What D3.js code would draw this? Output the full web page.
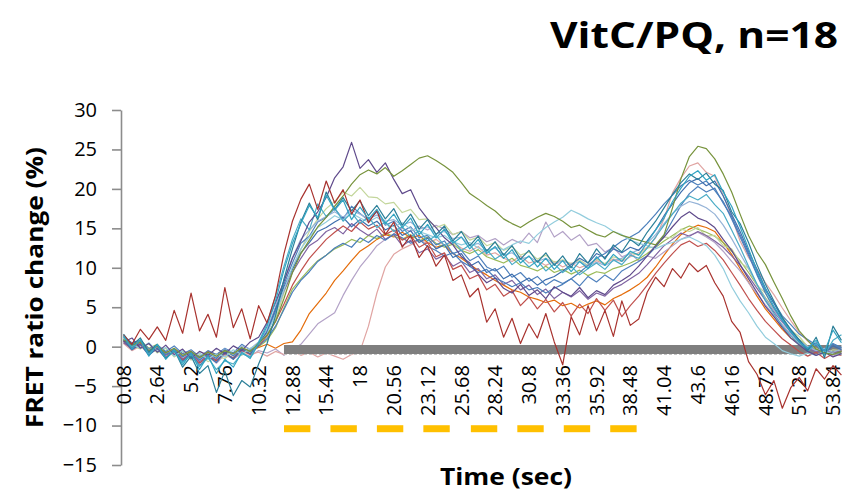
<!DOCTYPE html>
<html>
<head>
<meta charset="utf-8">
<script src="https://cdn.jsdelivr.net/npm/d3@7/dist/d3.min.js"></script>
<style>
  body { margin: 0; background: #fff; }
  svg { display: block; }
</style>
</head>
<body>
<div class="chart"></div>
<script>
// text
const chartTitle = 'VitC/PQ, n=18';
const yTitle = 'FRET ratio change (%)';
const xTitle = 'Time (sec)';

// sampling of the traces (s): first sample and step
const tFirst = 0.08;
const tStep = 0.64;

const xTickLabels = ['0.08', '2.64', '5.2', '7.76', '10.32', '12.88', '15.44', '18', '20.56', '23.12', '25.68',
  '28.24', '30.8', '33.36', '35.92', '38.48', '41.04', '43.6', '46.16', '48.72', '51.28', '53.84'];
const yTicks = [-15, -10, -5, 0, 5, 10, 15, 20, 25, 30];

// stimulus pulses (s) and the grey reference band
const stimStart = [12.24, 15.76, 19.28, 22.8, 26.4, 29.92, 33.44, 36.96];
const stimLength = 2.0;
const stimLevel = -10.4;
const bandSpan = [12.24, 54.48];
const bandLevel = -0.36;

// 18 cells, FRET ratio change (%) every 0.64 s
const cell01 = [1.2, 0.5, 0.8, -0.3, 0.2, -0.6, 0.1, -0.9, -0.4, -1.3, -0.5, -1.0, -0.2, -0.8, 0.3, -0.4, 0.5,
  1.8, 4.5, 7.9, 10.6, 13.1, 14.0, 15.8, 16.4, 17.5, 16.2, 17.8, 16.9, 16.0, 17.1, 15.4, 15.9,
  14.6, 15.2, 13.8, 14.1, 12.9, 13.4, 11.8, 12.2, 10.9, 11.5, 10.1, 9.6, 10.2, 8.8, 9.4, 8.3,
  8.9, 7.8, 8.5, 8.0, 8.6, 7.7, 8.9, 8.2, 9.1, 8.4, 9.6, 10.2, 10.8, 11.5, 12.6, 14.1,
  16.0, 17.9, 19.4, 20.3, 19.6, 20.1, 18.2, 16.5, 14.2, 11.8, 9.3, 7.1, 5.6, 3.9, 2.8, 1.6,
  0.9, 0.2, -0.4, 0.3, -0.2];
const cell02 = [1.5, 0.3, 2.2, 0.9, 2.5, 0.8, 4.6, 1.7, 6.8, 2.0, 4.1, 1.2, 7.5, 2.4, 4.8, 1.0, 5.2,
  3.0, 6.5, 11.8, 15.9, 18.7, 20.6, 17.4, 21.0, 18.2, 19.9, 16.8, 18.6, 15.7, 17.3, 14.2, 15.8,
  12.6, 14.1, 11.3, 12.8, 10.2, 11.6, 8.4, 9.1, 6.3, 7.4, 3.1, 4.8, 1.2, 3.6, 0.4, 2.9,
  1.1, 4.2, 0.6, -2.3, 3.8, 1.5, 5.2, 2.0, 4.6, 1.3, 5.8, 2.7, 3.5, 6.9, 8.8, 7.6,
  9.9, 8.7, 10.6, 9.5, 10.3, 8.1, 6.4, 3.2, 1.8, -1.9, -3.5, -6.1, -4.3, -7.8, -5.2, -3.9,
  -5.6, -2.8, -4.1, -2.4, -3.6];
const cell03 = [0.9, 0.2, 0.6, -0.5, 0.1, -0.8, -0.2, -1.1, -0.6, -1.4, -0.7, -1.2, -0.5, -0.9, -0.1, -0.6, 0.4,
  1.5, 3.2, 6.1, 9.4, 11.8, 13.5, 15.2, 16.4, 17.8, 19.1, 20.6, 21.8, 22.4, 21.9, 22.7, 21.6,
  22.3, 23.1, 23.9, 24.2, 23.6, 22.9, 22.1, 20.8, 19.4, 18.7, 17.9, 17.2, 16.2, 15.6, 15.1, 15.8,
  16.4, 16.9, 16.5, 15.9, 15.1, 15.4, 14.8, 14.2, 13.9, 14.6, 14.1, 13.8, 13.5, 13.2, 12.9, 14.2,
  17.6, 21.3, 24.1, 25.4, 25.1, 23.8, 21.9, 19.6, 16.8, 14.1, 12.0, 10.4, 8.2, 6.1, 3.9, 2.0,
  0.8, -0.3, -0.8, -1.0, -0.6];
const cell04 = [0.6, 1.1, -0.2, 0.4, -0.7, 0.2, -1.0, -0.3, -1.5, -0.6, -1.1, -0.2, -0.9, 0.1, -0.5, 0.6, 1.2,
  3.1, 5.6, 8.3, 11.2, 13.4, 15.8, 17.1, 18.9, 21.4, 22.8, 25.9, 22.6, 23.7, 22.1, 23.3, 21.2,
  19.4, 19.9, 17.6, 16.2, 15.1, 13.8, 12.9, 11.4, 10.6, 9.2, 8.1, 8.7, 7.4, 6.8, 7.9, 6.5,
  7.2, 6.1, 7.6, 6.9, 6.4, 7.5, 6.2, 7.1, 6.6, 7.8, 8.4, 9.1, 10.2, 11.5, 12.8, 13.9,
  15.2, 16.4, 17.1, 16.3, 15.9, 15.1, 13.6, 12.2, 10.4, 8.6, 6.9, 5.1, 3.8, 2.4, 1.1, 0.2,
  -0.6, -1.1, -0.7, -1.3, -0.9];
const cell05 = [1.4, -0.3, 0.9, -1.2, 0.3, -1.6, -0.4, -2.3, -0.8, -2.9, -1.1, -3.4, -1.6, -2.6, -0.7, -1.5, 0.4,
  2.6, 5.8, 9.7, 13.1, 15.6, 17.9, 16.4, 19.2, 17.3, 18.6, 16.1, 17.7, 16.2, 17.4, 15.6, 16.8,
  15.1, 16.3, 14.2, 15.5, 13.8, 14.9, 13.1, 13.9, 12.4, 13.6, 11.8, 12.7, 11.2, 12.3, 10.6, 11.5,
  10.1, 11.2, 9.8, 10.9, 9.5, 10.8, 9.9, 11.4, 10.3, 11.7, 10.8, 12.1, 11.6, 13.2, 14.8, 16.3,
  18.4, 20.1, 21.6, 22.3, 21.1, 21.8, 19.6, 17.8, 15.2, 12.4, 9.6, 7.3, 5.1, 3.4, 1.9, 0.6,
  -0.2, 0.8, -0.6, 2.1, 0.5];
const cell06 = [0.8, 0.1, 0.5, -0.4, -0.1, -0.7, -0.3, -0.9, -0.5, -1.2, -0.6, -1.0, -0.4, -0.8, -0.2, -0.5, -0.1,
  0.3, -0.2, 0.4, 0.6, 2.1, 4.2, 5.5, 6.8, 8.4, 9.6, 10.9, 12.1, 12.8, 13.6, 14.2, 13.9,
  14.5, 13.8, 14.1, 13.2, 12.6, 12.9, 11.8, 11.2, 10.4, 9.7, 9.1, 8.4, 7.8, 7.2, 6.9, 6.3,
  6.0, 5.6, 5.9, 5.2, 5.5, 4.9, 5.4, 5.8, 5.3, 6.1, 6.6, 7.2, 7.9, 8.8, 10.1, 11.6,
  13.0, 14.2, 14.9, 15.4, 15.1, 14.6, 13.2, 11.7, 9.9, 8.2, 6.4, 4.8, 3.5, 2.2, 1.1, 0.4,
  -0.3, 0.2, -0.5, -0.2, -0.6];
const cell07 = [0.5, -0.4, 0.2, -0.9, -0.3, -1.3, -0.6, -1.8, -0.9, -1.5, -1.2, -2.1, -1.0, -1.6, -0.8, -1.2, -0.5,
  -0.8, -0.3, -1.1, -0.4, 0.3, 1.6, 2.9, 3.6, 4.3, 6.5, 8.4, 10.1, 11.4, 12.8, 13.6, 14.3,
  15.0, 14.6, 15.3, 14.8, 15.4, 14.9, 14.2, 14.6, 13.8, 14.1, 13.3, 13.7, 12.9, 13.6, 13.1, 14.4,
  13.2, 15.8, 13.9, 14.6, 13.5, 14.2, 12.8, 13.1, 12.0, 12.6, 11.4, 11.8, 10.9, 11.5, 11.2, 12.0,
  12.8, 13.6, 14.1, 14.5, 13.9, 13.2, 12.1, 10.8, 9.6, 8.1, 6.7, 5.3, 4.0, 2.8, 1.6, 0.5,
  -0.4, -0.9, -0.6, -1.2, -0.8];
const cell08 = [0.4, -0.5, 0.1, -0.8, -0.4, -1.1, -0.7, -1.5, -0.9, -1.3, -1.0, -1.7, -1.1, -1.4, -0.6, -1.0, -0.7,
  -1.2, -0.6, -1.0, -0.5, -1.1, -0.7, -1.3, -0.8, -1.2, -1.6, -1.0, -0.6, 2.6, 6.8, 10.1, 11.7,
  12.4, 12.9, 13.5, 13.1, 13.6, 12.8, 13.2, 12.5, 12.1, 12.7, 11.6, 11.9, 11.2, 10.8, 11.5, 10.6,
  10.9, 10.3, 10.8, 10.1, 10.6, 10.0, 10.4, 10.9, 10.5, 11.1, 10.8, 11.4, 11.9, 12.6, 13.8, 16.2,
  19.5, 21.4, 22.9, 23.3, 22.1, 21.6, 19.2, 16.5, 13.4, 11.3, 9.8, 8.1, 6.6, 4.9, 3.3, 1.8,
  0.7, -0.2, -0.8, -0.5, -0.9];
const cell09 = [1.0, 0.3, -0.2, 0.5, -0.6, -0.1, -1.2, -0.5, -1.4, -0.8, -1.6, -0.9, -1.3, -0.4, -1.0, -0.2, 0.3,
  1.6, 4.1, 7.2, 10.1, 12.4, 13.9, 15.1, 15.8, 16.6, 16.1, 16.9, 16.3, 15.8, 16.4, 15.6, 15.2,
  15.7, 14.9, 14.6, 14.2, 13.8, 14.1, 13.3, 12.9, 13.2, 12.5, 12.1, 12.6, 12.3, 12.9, 13.4, 13.1,
  14.2, 15.1, 15.8, 16.4, 17.3, 16.8, 16.2, 15.7, 15.3, 14.6, 14.2, 13.5, 13.1, 12.8, 12.4, 12.9,
  13.2, 13.6, 13.9, 13.4, 12.8, 11.6, 9.9, 7.6, 5.8, 4.3, 2.6, 1.2, 0.4, -0.5, -0.9, -1.2,
  -0.8, -1.1, -0.6, -0.9, -1.0];
const cell10 = [1.6, 0.2, 1.1, -0.7, 0.3, -1.5, -0.4, -2.6, -1.2, -3.4, -2.4, -5.8, -3.1, -6.2, -4.3, -5.1, -2.2,
  0.4, 3.9, 8.6, 12.4, 15.8, 18.2, 16.1, 19.6, 17.4, 18.9, 17.2, 18.5, 16.6, 17.9, 16.2, 17.5,
  15.4, 16.8, 14.9, 16.1, 14.2, 15.3, 13.4, 14.6, 12.8, 14.0, 12.1, 13.3, 11.6, 12.8, 11.1, 12.2,
  10.7, 11.9, 10.3, 11.5, 10.0, 11.8, 10.6, 12.4, 11.1, 12.9, 12.0, 13.6, 12.8, 14.5, 15.9, 17.6,
  19.3, 20.8, 21.9, 21.2, 22.0, 20.6, 19.8, 17.1, 15.6, 13.2, 10.4, 7.9, 5.8, 3.7, 2.1, 0.9,
  -0.5, 1.2, -1.4, 2.6, 0.8];
const cell11 = [0.8, -0.4, 0.3, -1.1, -0.2, -1.5, -0.5, -1.9, -0.8, -2.4, -1.2, -2.0, -0.7, -1.6, -0.3, -0.9, 0.2,
  1.9, 4.8, 7.6, 9.8, 11.9, 13.2, 14.6, 15.1, 15.8, 16.4, 15.2, 16.1, 15.3, 15.9, 14.8, 15.4,
  14.1, 14.7, 13.2, 13.8, 12.4, 12.9, 11.3, 11.8, 10.2, 10.8, 9.4, 9.9, 8.6, 9.2, 8.1, 8.7,
  7.8, 8.5, 8.9, 9.6, 10.4, 11.2, 10.6, 11.8, 11.3, 12.4, 11.9, 12.6, 12.2, 13.4, 14.8, 16.6,
  18.1, 19.6, 20.8, 21.3, 20.4, 21.0, 19.1, 16.8, 14.6, 12.1, 9.8, 7.4, 5.5, 3.6, 2.2, 0.8,
  -0.3, 0.5, -0.8, 0.1, -0.4];
const cell12 = [0.7, 0.1, -0.3, 0.4, -0.8, -0.2, -1.3, -0.6, -1.7, -1.0, -1.9, -1.3, -1.5, -0.7, -1.1, -0.4, 0.1,
  1.2, 3.5, 6.8, 9.9, 12.3, 14.6, 16.2, 17.5, 18.4, 19.6, 19.1, 20.2, 19.0, 18.9, 18.1, 18.3,
  17.0, 17.4, 16.1, 16.2, 15.1, 15.5, 14.2, 14.6, 13.5, 13.9, 12.8, 13.2, 12.2, 12.7, 11.6, 12.0,
  11.1, 11.6, 10.7, 11.0, 10.5, 11.0, 10.3, 11.1, 10.5, 11.4, 11.0, 11.9, 11.6, 12.5, 12.7, 13.9,
  13.8, 14.9, 14.6, 15.1, 14.0, 14.1, 12.8, 12.4, 10.7, 9.9, 7.8, 6.8, 4.7, 3.8, 2.1, 1.3,
  0.0, -0.2, -0.9, -0.4, -0.5];
const cell13 = [1.1, 0.4, 0.8, -0.2, 0.3, -0.9, -0.3, -1.2, -0.7, -1.6, -0.8, -1.4, -0.6, -1.1, -0.3, -0.7, 0.0,
  0.8, 2.4, 4.9, 7.3, 8.6, 9.8, 10.9, 11.6, 12.4, 12.9, 13.6, 13.2, 14.1, 13.7, 14.4, 14.0,
  13.6, 14.2, 13.4, 13.9, 13.1, 12.6, 13.0, 12.2, 11.8, 12.3, 11.4, 11.0, 10.6, 11.2, 10.3, 10.0,
  9.6, 10.2, 9.4, 9.8, 9.2, 9.7, 9.0, 9.5, 9.3, 9.9, 10.2, 10.6, 11.1, 11.8, 12.6, 13.4,
  14.1, 14.8, 15.3, 14.9, 14.5, 14.0, 13.2, 12.1, 10.9, 9.4, 7.8, 6.2, 4.7, 3.3, 2.0, 0.9,
  0.1, -0.5, -0.2, -0.8, -0.4];
const cell14 = [0.9, -0.1, 0.6, -0.6, 0.1, -1.0, -0.4, -1.3, -0.6, -1.7, -0.9, -1.5, -0.4, -1.2, -0.2, -0.6, 0.1,
  1.0, 2.6, 4.7, 6.9, 8.4, 9.5, 10.8, 11.6, 12.5, 13.1, 12.6, 13.8, 13.2, 14.1, 13.5, 14.3,
  13.8, 13.1, 13.6, 12.7, 12.2, 11.5, 11.9, 10.8, 10.2, 9.4, 9.8, 8.7, 8.2, 7.6, 8.1, 7.2,
  7.5, 6.8, 7.4, 7.9, 8.6, 9.4, 10.3, 11.2, 11.8, 12.6, 13.4, 13.9, 14.5, 15.6, 16.8, 18.1,
  19.2, 20.4, 21.1, 20.5, 21.0, 19.8, 18.4, 16.2, 13.9, 11.6, 9.1, 6.8, 4.9, 3.3, 1.8, 0.6,
  -0.4, 0.2, -0.7, 0.4, -0.1];
const cell15 = [1.3, 0.0, 0.7, -0.9, 0.2, -1.4, -0.6, -2.0, -1.0, -2.5, -1.4, -2.9, -1.8, -2.2, -0.9, -1.3, 0.6,
  2.9, 6.4, 10.2, 13.6, 16.2, 14.8, 18.1, 16.5, 17.6, 15.9, 17.0, 15.6, 16.4, 15.1, 15.8, 14.6,
  15.2, 13.9, 14.7, 13.4, 14.1, 12.8, 13.5, 12.2, 12.9, 11.6, 12.3, 11.1, 11.8, 10.4, 11.2, 10.1,
  10.9, 9.6, 10.5, 9.4, 10.2, 9.1, 9.9, 10.6, 9.8, 11.0, 10.4, 11.6, 11.2, 12.5, 13.9, 15.4,
  16.8, 18.2, 19.1, 18.6, 19.3, 18.0, 16.9, 14.8, 12.6, 10.2, 7.9, 5.8, 4.2, 2.6, 1.4, 0.3,
  -0.6, 0.4, -1.0, 0.8, 1.5];
const cell16 = [0.5, -0.2, 0.3, -0.8, -0.3, -1.1, -0.5, -1.6, -0.8, -1.9, -1.1, -1.7, -0.9, -1.4, -0.5, -0.9, 0.2,
  1.9, 4.3, 7.1, 9.4, 11.2, 12.8, 13.5, 14.6, 15.1, 14.3, 15.6, 14.8, 14.1, 14.9, 13.6, 14.2,
  12.8, 13.5, 11.9, 12.4, 11.1, 11.6, 10.2, 10.8, 9.4, 9.9, 8.6, 9.1, 7.9, 8.4, 7.2, 7.8,
  6.6, 7.3, 6.1, 6.9, 6.3, 7.1, 6.0, 6.8, 6.4, 7.4, 7.9, 8.6, 9.3, 10.4, 11.6, 12.8,
  13.6, 14.4, 14.0, 14.6, 14.1, 13.4, 12.6, 11.5, 10.3, 8.9, 7.4, 5.9, 4.4, 3.1, 1.9, 0.8,
  -0.2, -0.7, -0.3, -0.9, -0.5];
const cell17 = [0.7, -0.3, 0.4, -1.0, -0.2, -1.4, -0.6, -1.7, -1.0, -2.1, -1.2, -1.8, -0.8, -1.5, -0.4, -1.0, 0.1,
  1.4, 3.2, 5.4, 7.8, 9.6, 11.2, 12.4, 13.6, 14.5, 15.3, 14.6, 15.8, 14.9, 15.4, 14.2, 14.8,
  13.5, 14.1, 12.6, 13.2, 11.4, 11.9, 9.8, 10.3, 8.6, 9.1, 7.2, 7.9, 6.4, 7.1, 5.2, 6.3,
  4.8, 6.0, 4.4, 5.6, 3.9, 5.4, 4.2, 6.1, 4.6, 5.9, 3.8, 5.2, 6.4, 7.8, 9.3, 10.6,
  11.8, 12.9, 13.4, 12.7, 13.1, 12.2, 11.0, 9.4, 7.8, 6.1, 4.6, 3.2, 2.1, 1.0, 0.2, -0.6,
  -1.2, -0.7, -1.5, -0.9, -1.1];
const cell18 = [1.0, 0.2, 0.5, -0.4, 0.0, -0.9, -0.2, -1.3, -0.5, -1.6, -0.8, -1.4, -0.3, -1.0, 0.1, -0.3, 0.6,
  2.2, 5.1, 8.4, 11.3, 13.6, 14.8, 15.9, 16.5, 17.1, 16.4, 17.3, 16.8, 16.2, 16.7, 15.9, 16.1,
  15.4, 15.8, 14.9, 15.2, 14.3, 14.6, 13.7, 13.9, 12.8, 13.1, 12.2, 12.5, 11.6, 11.9, 11.1, 11.4,
  10.8, 11.2, 10.5, 10.9, 10.4, 10.8, 10.2, 10.7, 10.3, 10.9, 11.2, 11.8, 12.3, 13.1, 14.2, 15.6,
  16.9, 17.8, 18.4, 18.1, 17.6, 16.8, 15.4, 13.7, 11.8, 9.9, 7.9, 6.1, 4.6, 3.2, 1.9, 0.8,
  0.0, -0.5, -0.2, -0.7, -0.3];

// drawing order: these sit under the grey band, the rest above it
const cellsBelowBand = [cell06, cell07, cell08, cell13];
const cellsAboveBand = [cell12, cell16, cell01, cell18, cell14, cell17, cell11, cell09, cell15,
  cell04, cell03, cell10, cell02, cell05];
const colourOf = new Map([
  [cell01, '#4f81bd'], [cell02, '#a8322e'], [cell03, '#77933c'], [cell04, '#5f4a8b'],
  [cell05, '#31a4c2'], [cell06, '#e46c0a'], [cell07, '#b3a2c7'], [cell08, '#e0a4a2'],
  [cell09, '#93cddd'], [cell10, '#2b7f98'], [cell11, '#3f6fae'], [cell12, '#c3d69b'],
  [cell13, '#9bbb59'], [cell14, '#4a7ebb'], [cell15, '#4bacc6'], [cell16, '#8064a2'],
  [cell17, '#c0504d'], [cell18, '#95b3d7'],
]);

const width = 842;
const height = 493;

const svg = d3.select('.chart')
  .append('svg')
  .attr('width', width)
  .attr('height', height);

const times = d3.range(cell01.length).map(i => tFirst + i * tStep);

const xScale = d3.scaleLinear()
  .domain([0.08, 53.84])
  .range([123.5, 833]);
const yScale = d3.scaleLinear()
  .domain([-15, 30])
  .range([465, 110]);

// y axis
svg.append('g')
  .attr('transform', 'translate(121, 0)')
  .call(d3.axisLeft(yScale).tickValues(yTicks).tickSize(9).tickSizeOuter(0).tickPadding(15))
  .call(g => {
    g.select('.domain').attr('stroke', '#8c8c8c').attr('stroke-width', 1.6);
    g.selectAll('.tick line').attr('stroke', '#8c8c8c').attr('stroke-width', 1.6);
    g.selectAll('.tick text')
      .attr('font-family', 'Open Sans')
      .attr('font-size', 20)
      .attr('fill', '#000');
  });

// x tick labels (category style, rotated)
svg.append('g')
  .selectAll('text')
  .data(xTickLabels)
  .join('text')
  .attr('transform', d => `translate(${xScale(+d)}, 365) rotate(-90)`)
  .attr('text-anchor', 'end')
  .attr('dy', '0.36em')
  .attr('font-family', 'Open Sans')
  .attr('font-size', 20)
  .attr('fill', '#000')
  .text(d => d);

const line = d3.line()
  .x((d, i) => xScale(times[i]))
  .y(d => yScale(d));

function drawCells(cells) {
  svg.append('g')
    .selectAll('path')
    .data(cells)
    .join('path')
    .attr('d', d => line(d))
    .style('fill', 'none')
    .style('stroke', d => colourOf.get(d))
    .style('stroke-width', 1.2)
    .style('stroke-linejoin', 'round');
}

drawCells(cellsBelowBand);

// grey band near zero
svg.append('line')
  .attr('x1', xScale(bandSpan[0]))
  .attr('x2', xScale(bandSpan[1]))
  .attr('y1', yScale(bandLevel))
  .attr('y2', yScale(bandLevel))
  .style('stroke', '#7f7f7f')
  .style('stroke-width', 9);
svg.append('line')
  .attr('x1', xScale(bandSpan[0]))
  .attr('x2', xScale(bandSpan[1]))
  .attr('y1', yScale(bandLevel) + 5)
  .attr('y2', yScale(bandLevel) + 5)
  .style('stroke', '#c4c4c4')
  .style('stroke-width', 1)
  .style('stroke-dasharray', '3,2');

drawCells(cellsAboveBand);

// stimulus pulses
svg.append('g')
  .selectAll('line')
  .data(stimStart)
  .join('line')
  .attr('x1', d => xScale(d))
  .attr('x2', d => xScale(d + stimLength))
  .attr('y1', yScale(stimLevel))
  .attr('y2', yScale(stimLevel))
  .style('stroke', '#ffc000')
  .style('stroke-width', 7);

// titles
svg.append('text')
  .attr('x', 838)
  .attr('y', 48)
  .attr('text-anchor', 'end')
  .attr('font-family', 'Open Sans')
  .attr('font-weight', 700)
  .attr('font-size', 36)
  .attr('textLength', 288)
  .attr('lengthAdjust', 'spacingAndGlyphs')
  .text(chartTitle);

svg.append('text')
  .attr('transform', 'translate(43, 287.5) rotate(-90)')
  .attr('text-anchor', 'middle')
  .attr('font-family', 'Open Sans')
  .attr('font-weight', 700)
  .attr('font-size', 24)
  .attr('textLength', 281)
  .attr('lengthAdjust', 'spacingAndGlyphs')
  .text(yTitle);

svg.append('text')
  .attr('x', 506)
  .attr('y', 485)
  .attr('text-anchor', 'middle')
  .attr('font-family', 'Open Sans')
  .attr('font-weight', 700)
  .attr('font-size', 24)
  .attr('textLength', 132)
  .attr('lengthAdjust', 'spacingAndGlyphs')
  .text(xTitle);
</script>
</body>
</html>
